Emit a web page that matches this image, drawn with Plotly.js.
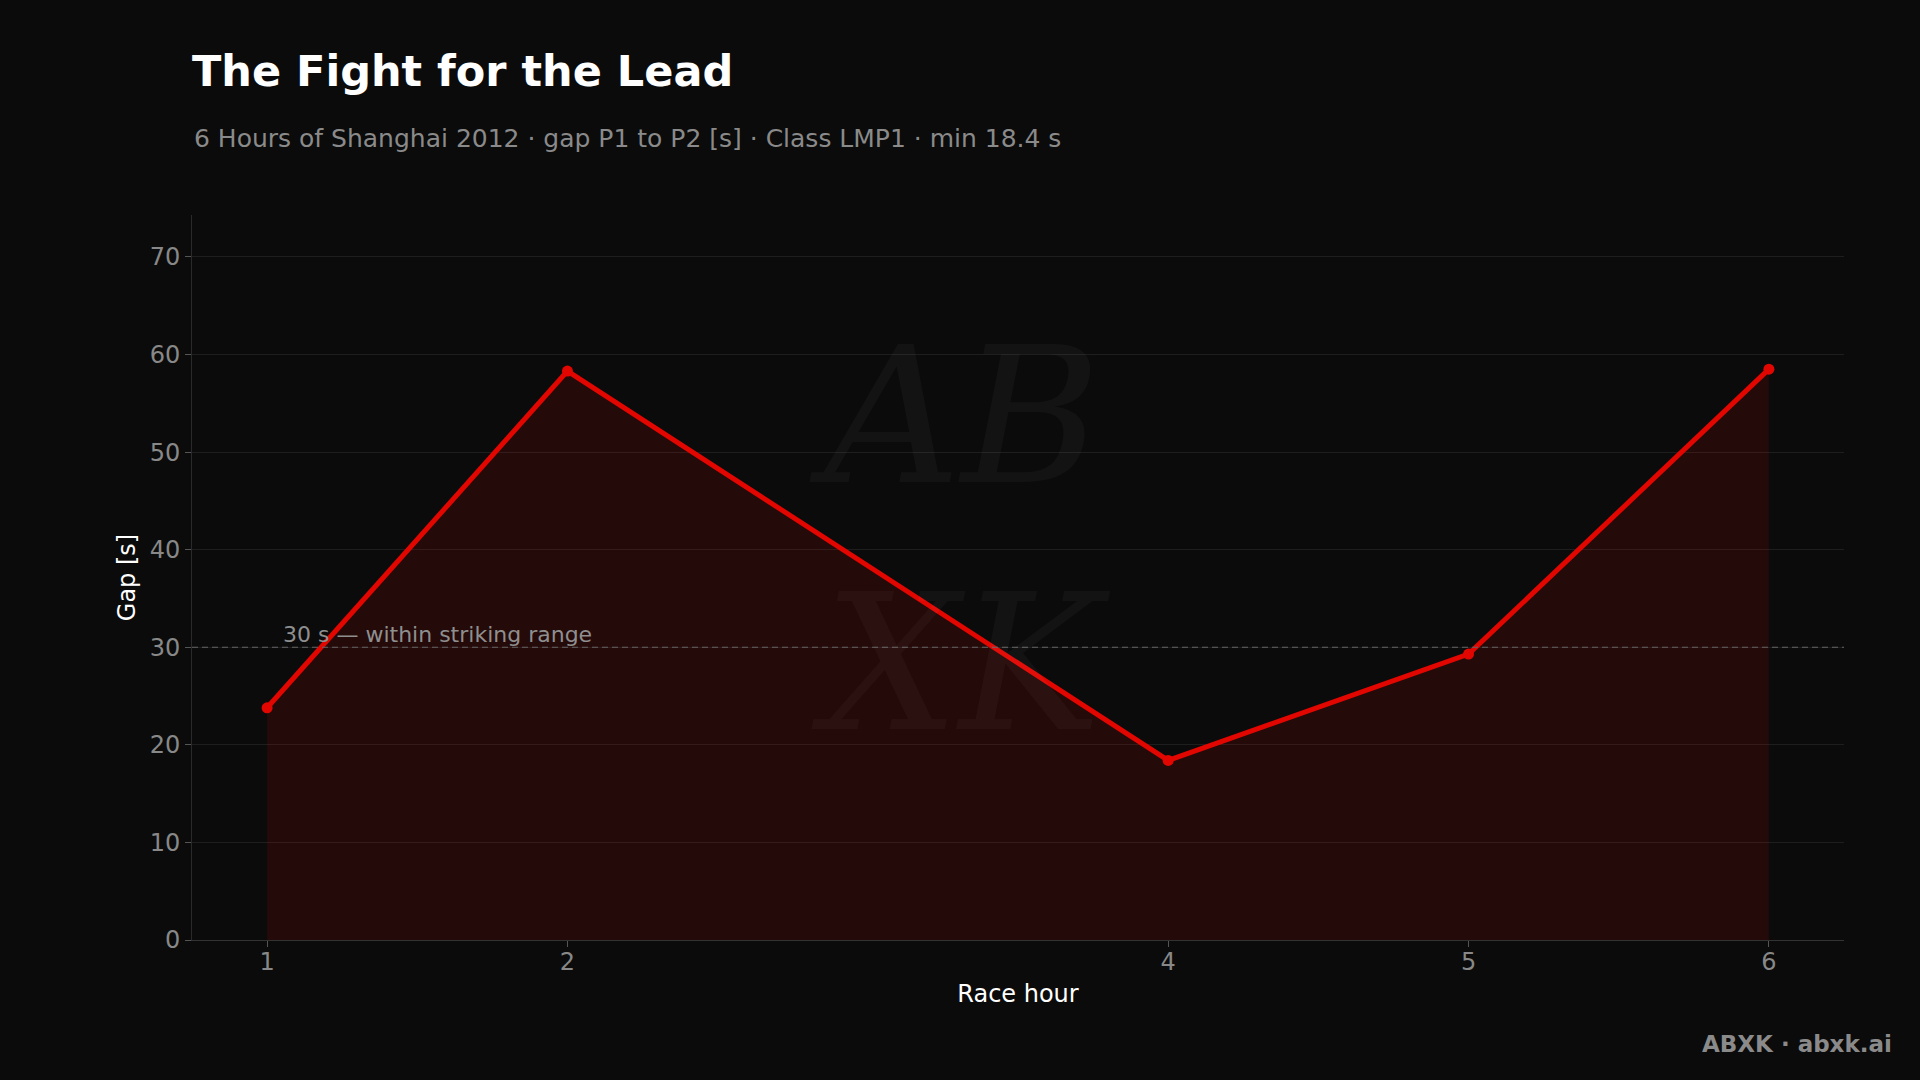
<!DOCTYPE html>
<html>
<head>
<meta charset="utf-8">
<script src="https://cdn.plot.ly/plotly-3.0.1.min.js"></script>
<style>
  html, body { margin: 0; padding: 0; background: #0b0b0b; }
  #chart { width: 1920px; height: 1080px; }
</style>
</head>
<body>
<div id="chart"></div>
<script>
// Data
const raceHours = [1, 2, 4, 5, 6];
const gapSeconds = [23.8, 58.3, 18.4, 29.3, 58.5];
const yTickValues = [0, 10, 20, 30, 40, 50, 60, 70];
const thresholdValue = 30;
const thresholdLabel = "30 s — within striking range";
const titleText = "The Fight for the Lead";
const subtitleText = "6 Hours of Shanghai 2012 · gap P1 to P2 [s] · Class LMP1 · min 18.4 s";
const xTitle = "Race hour";
const yTitle = "Gap [s]";
const footerText = "ABXK · abxk.ai";

const FONT = "DejaVu Sans, Verdana, sans-serif";
const RED = "#e10600";

const trace = {
  x: raceHours,
  y: gapSeconds,
  type: "scatter",
  mode: "lines+markers",
  line: { color: RED, width: 5 },
  marker: { color: RED, size: 11 },
  fill: "tozeroy",
  fillcolor: "rgba(225,6,0,0.12)",
  hoverinfo: "x+y",
  showlegend: false
};

const layout = {
  width: 1920,
  height: 1080,
  paper_bgcolor: "#0b0b0b",
  plot_bgcolor: "#0b0b0b",
  margin: { l: 192, r: 76, t: 215, b: 140 },
  font: { family: FONT, color: "#888888" },
  title: {
    text: "<b>" + titleText + "</b>",
    font: { family: FONT, size: 43, color: "#ffffff" },
    x: 0.1, xanchor: "left", xref: "container",
    y: 0.934, yanchor: "middle", yref: "container"
  },
  xaxis: {
    range: [0.75, 6.25],
    tickmode: "array",
    tickvals: raceHours,
    ticktext: raceHours.map(String),
    showgrid: false,
    zeroline: false,
    showline: true,
    linecolor: "#333333",
    linewidth: 1,
    ticks: "outside",
    ticklen: 6,
    tickcolor: "#555555",
    ticklabelstandoff: -6,
    tickfont: { family: FONT, size: 24, color: "#888888" },
    title: { text: xTitle, font: { family: FONT, size: 24, color: "#ffffff" }, standoff: 10 }
  },
  yaxis: {
    range: [0, 74.3],
    tickmode: "array",
    tickvals: yTickValues,
    showgrid: true,
    gridcolor: "#1e1e1e",
    gridwidth: 1,
    zeroline: false,
    showline: true,
    linecolor: "#2a2a2a",
    linewidth: 1,
    ticks: "outside",
    ticklen: 6,
    tickcolor: "#555555",
    tickfont: { family: FONT, size: 24, color: "#888888" },
    title: { text: yTitle, font: { family: FONT, size: 24, color: "#ffffff" }, standoff: 7 }
  },
  shapes: [
    {
      type: "line", xref: "paper", x0: 0, x1: 1, yref: "y", y0: thresholdValue, y1: thresholdValue,
      line: { color: "#666666", width: 1.2, dash: "6px,4px" },
      layer: "above"
    }
  ],
  annotations: [
    {
      text: subtitleText,
      xref: "paper", x: 0, xanchor: "left",
      yref: "paper", y: 1.106, yanchor: "middle",
      showarrow: false,
      font: { family: FONT, size: 25, color: "#8a8a8a" }
    },
    {
      text: thresholdLabel,
      xref: "paper", x: 0.054, xanchor: "left",
      yref: "y", y: thresholdValue, yanchor: "bottom",
      yshift: -2,
      showarrow: false,
      font: { family: FONT, size: 22, color: "#8f8f8f" }
    },
    {
      text: "<i>AB</i><br><i>XK</i>",
      xref: "paper", x: 0.465, xanchor: "center",
      yref: "paper", y: 0.552, yanchor: "middle",
      showarrow: false,
      font: { family: "DejaVu Serif, serif", size: 190, color: "rgba(255,255,255,0.035)" }
    },
    {
      text: "<b>" + footerText + "</b>",
      xref: "paper", x: 1.0300, xanchor: "right",
      yref: "paper", y: -0.143, yanchor: "middle",
      showarrow: false,
      font: { family: FONT, size: 23, color: "#8a8a8a" }
    }
  ]
};

Plotly.newPlot("chart", [trace], layout, { displayModeBar: false, responsive: false });
</script>
</body>
</html>
